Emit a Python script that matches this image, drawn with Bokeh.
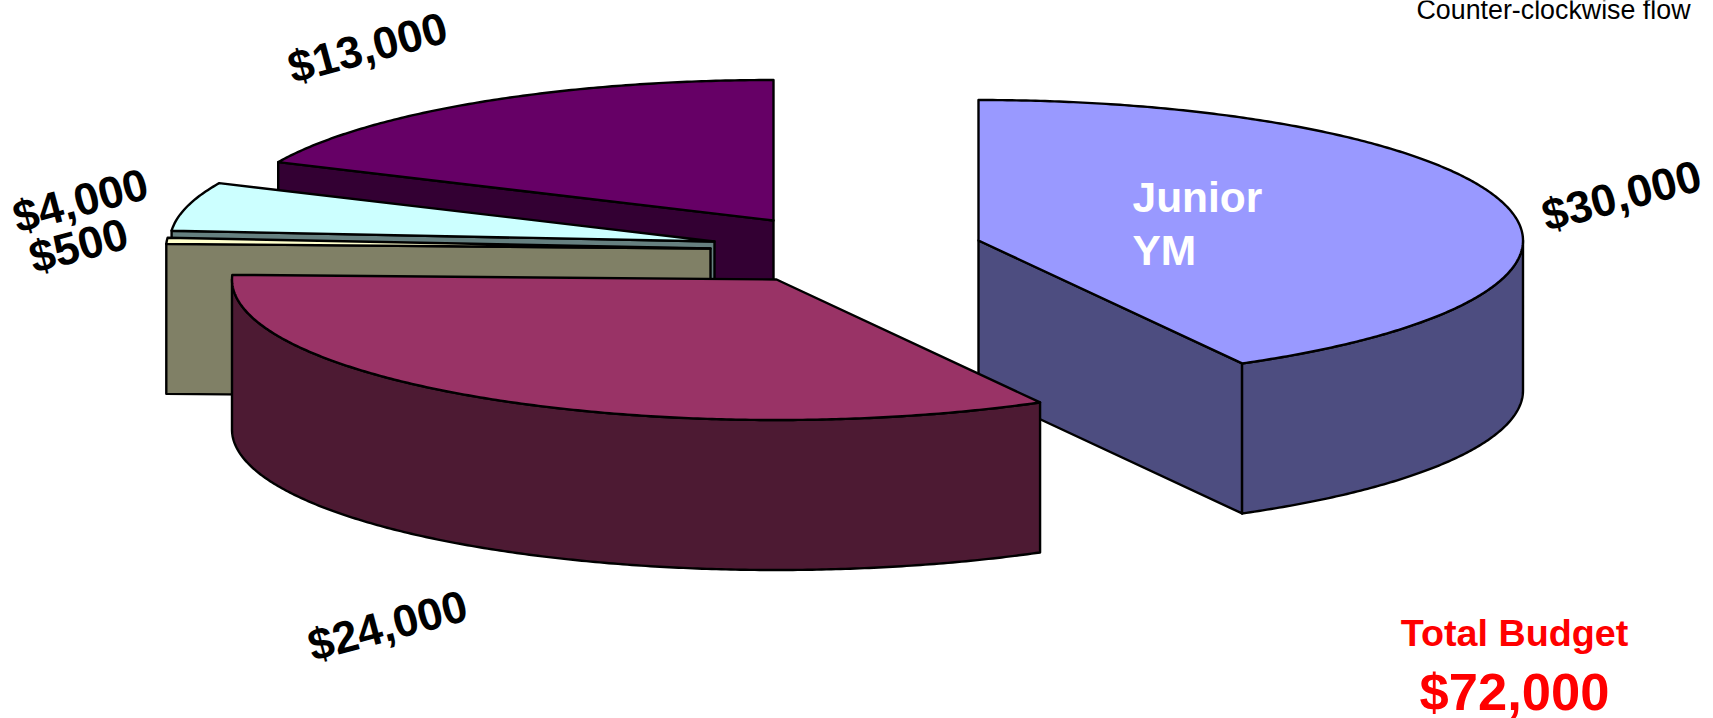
import numpy as np
from bokeh.plotting import figure
from bokeh.models import Range1d
from bokeh.core.properties import value
from bokeh.embed import file_html
from bokeh.resources import INLINE

# ---- data ----
categories = ["Junior YM", "Second", "Third", "Fourth", "Fifth"]
budget = [30000, 24000, 500, 4000, 13000]
value_labels = ["$30,000", "$24,000", "$500", "$4,000", "$13,000"]
total_label = "$72,000"

# ---- styling / layout ----
W, H = 1713, 718
A, B, DEPTH = 544.5, 140.5, 150.0
centers = [(978, 240), (776, 279), (710, 248), (714, 241), (773, 220)]
top_colors = ["#9999FF", "#993366", "#FFFFCC", "#CCFFFF", "#660066"]
side_colors = ["#4D4D80", "#4D1A33", "#808066", "#668080", "#330033"]
label_pos = [(1621, 195), (387, 625), (78, 245), (80, 200), (367, 47)]
LW = 2.4

p = figure(width=W, height=H, output_backend="svg", toolbar_location=None,
           x_range=Range1d(0, W), y_range=Range1d(H, 0), min_border=0,
           margin=(0, 0, 0, 0))
p.axis.visible = False
p.grid.visible = False
p.outline_line_color = None
p.background_fill_color = "white"
p.border_fill_color = "white"


def ell(c, deg):
    t = np.radians(deg)
    # screen y grows downward; the angle runs counter-clockwise on screen
    return c[0] + A * np.cos(t), c[1] - B * np.sin(t)


def arc(c, a0, a1):
    n = max(int(abs(a1 - a0) * 2), 2)
    return ell(c, np.linspace(a0, a1, n))


def poly(xs, ys, color):
    p.patch(list(xs), list(ys), fill_color=color, line_color="black",
            line_width=LW, line_join="round")


def radial_face(c, deg, color):
    ex, ey = ell(c, deg)
    poly([c[0], ex, ex, c[0]], [c[1], ey, ey + DEPTH, c[1] + DEPTH], color)


def outer_face(c, a0, a1, color):
    ax, ay = arc(c, a0, a1)
    poly(np.r_[ax, ax[::-1]], np.r_[ay, ay[::-1] + DEPTH], color)


def top(c, a0, a1, color):
    ax, ay = arc(c, a0, a1)
    poly(np.r_[c[0], ax], np.r_[c[1], ay], color)


total = sum(budget)
angles = [90.0]
for v in budget:
    angles.append(angles[-1] - v / total * 360.0)
spans = [(angles[i], angles[i + 1]) for i in range(len(budget))]

# back to front: fifth, fourth, third, first, second
for i in [4, 3, 2, 0, 1]:
    a0, a1 = spans[i]
    c = centers[i]
    if i == 0:
        radial_face(c, a1, side_colors[i])
        outer_face(c, 0, a1, side_colors[i])
    elif i == 1:
        outer_face(c, a0, -180, side_colors[i])
    else:
        radial_face(c, a0, side_colors[i])
    top(c, a0, a1, top_colors[i])

BOLD = value("Liberation Sans")
for lab, (x, y) in zip(value_labels, label_pos):
    p.text([x], [y], text=[lab], text_font=BOLD, text_font_style="bold",
           text_font_size="45px", text_color="black", text_align="center",
           text_baseline="middle", angle=15, angle_units="deg")

p.text([1132, 1132], [197, 250], text=["Junior", "YM"], text_font=BOLD, text_font_style="bold",
       text_font_size="42.5px", text_color="white", text_align="left", text_baseline="alphabetic")
p.text([1690], [9], text=["Counter-clockwise flow"], text_font=BOLD,
       text_font_size="26.8px", text_color="black", text_align="right", text_baseline="alphabetic")
p.text([1514], [632], text=["Total Budget"], text_font=BOLD, text_font_style="bold",
       text_font_size="37.7px", text_color="#FF0000", text_align="center", text_baseline="alphabetic")
p.text([1514], [691], text=[total_label], text_font=BOLD, text_font_style="bold",
       text_font_size="52.5px", text_color="#FF0000", text_align="center", text_baseline="alphabetic")

open("out.html", "w").write(file_html(p, INLINE))
